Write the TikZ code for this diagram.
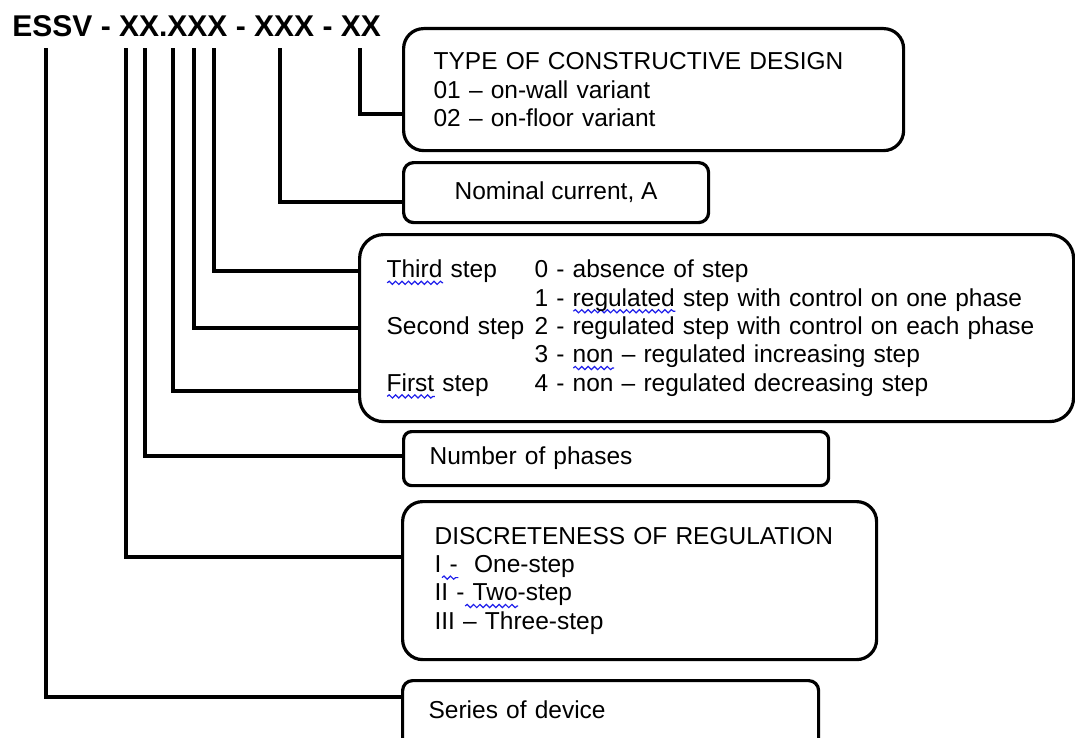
\documentclass[tikz,border=0pt]{standalone}
\usepackage{fontspec}
\setmainfont{Liberation Sans}
\usetikzlibrary{decorations.pathmorphing}
\definecolor{spellblue}{RGB}{30,30,235}
\newsavebox\wavebox
\newcommand\spellwave[1]{\sbox\wavebox{#1}\rlap{\smash{\tikz[baseline=0pt,x=1pt,y=1pt]
  \draw[spellblue,line width=0.6pt,sharp corners,decorate,decoration={snake,amplitude=0.8pt,segment length=3.2pt}]
    (0pt,-2.6pt) -- (\the\wd\wavebox,-2.6pt);}}\usebox\wavebox}
\begin{document}
\begin{tikzpicture}[x=0.5pt,y=-0.5pt,
  box/.style={draw,line width=1.6pt,anchor=north west,align=left,inner ysep=0pt,font=\fontsize{12.25}{14.2}\selectfont},
  lead/.style={line width=1.6pt}]
\useasboundingbox (0,0) rectangle (1075,738);
\clip (0,0) rectangle (1075,738);

\node[anchor=base west,inner xsep=0pt,inner ysep=5.3pt,font=\fontsize{15}{18}\selectfont\bfseries] (code) at (12,37) {ESSV - XX.XXX - XXX - XX};

\node[box,rounded corners=10pt,inner xsep=15pt,text width=220pt,minimum height=61pt] (design) at (402,27)
  {TYPE OF CONSTRUCTIVE DESIGN\\01 – on-wall variant\\02 – on-floor variant};
\node[box,rounded corners=5pt,align=center,minimum width=152.5pt,minimum height=30pt] (current) at (402,161) {Nominal current, A};
\node[box,rounded corners=12pt,inner xsep=13.5pt,text width=330pt,minimum height=93.5pt] (steps) at (358,233)
  {\makebox[74pt][l]{\spellwave{Third} step}0 - absence of step\\
   \hspace*{74pt}1 - \spellwave{regulated} step with control on one phase\\
   \makebox[74pt][l]{Second step}2 - regulated step with control on each phase\\
   \hspace*{74pt}3 - \spellwave{non} – regulated increasing step\\
   \makebox[74pt][l]{\spellwave{First} step}4 - non – regulated decreasing step};
\node[box,rounded corners=4pt,inner xsep=13pt,text width=186.5pt,minimum height=27pt] (phases) at (402,430) {Number of phases};
\node[box,rounded corners=10pt,inner xsep=16pt,text width=205pt,minimum height=79pt] (discrete) at (401,500)
  {DISCRETENESS OF REGULATION\\I\spellwave{\ -}\ \ One-step\\II -\spellwave{\ Two}-step\\III – Three-step};
\node[box,rounded corners=5pt,inner xsep=13pt,text width=182pt,text height=19pt,text depth=22pt] (series) at (401,679) {Series of device};

\foreach \x/\y/\b in {360/114/design,280/202/current,214/271/steps,194/328/steps,173/391/steps,145/456/phases,126/557/discrete,46/697/series}
  \draw[lead] (code.south -| \x,0) |- (\b.west |- 0,\y);
\end{tikzpicture}
\end{document}
